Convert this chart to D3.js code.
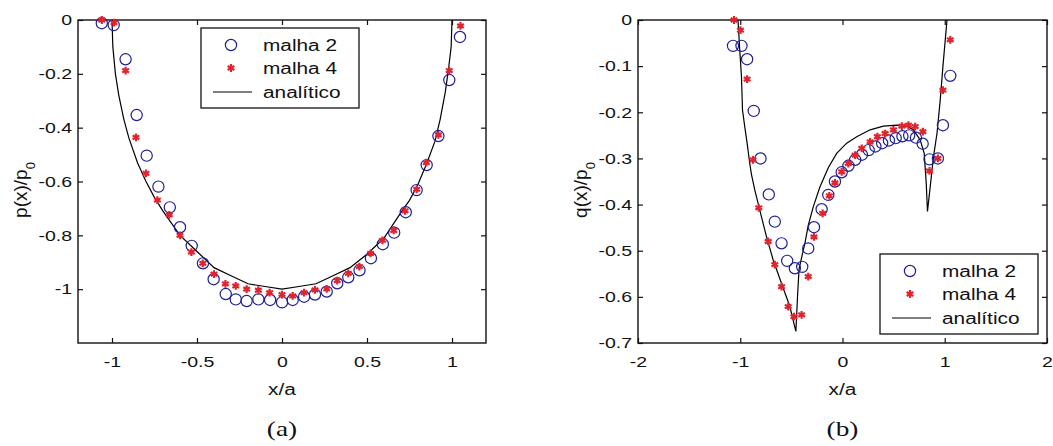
<!DOCTYPE html>
<html>
<head>
<meta charset="utf-8">
<script src="https://cdn.jsdelivr.net/npm/d3@7"></script>
<style>
  body { margin: 0; background: #fff; }
  svg { display: block; }
</style>
</head>
<body>
<div id="chart"></div>
<script>
// (a) normal pressure p(x)/p0
const pMalha2X = [-1.06, -0.99, -0.92, -0.855, -0.796, -0.727, -0.66, -0.6, -0.531, -0.465, -0.402, -0.331, -0.272, -0.208, -0.139, -0.07, 0, 0.063, 0.13, 0.194, 0.263, 0.325, 0.39, 0.456, 0.523, 0.593, 0.66, 0.728, 0.792, 0.851, 0.92, 0.984, 1.047];
const pMalha2Y = [-0.012, -0.019, -0.146, -0.353, -0.504, -0.619, -0.696, -0.77, -0.839, -0.904, -0.963, -1.018, -1.038, -1.044, -1.038, -1.04, -1.049, -1.04, -1.028, -1.02, -1.009, -0.978, -0.956, -0.93, -0.885, -0.833, -0.79, -0.714, -0.632, -0.539, -0.431, -0.223, -0.063];
const pMalha4X = [-1.06, -0.988, -0.92, -0.859, -0.8, -0.733, -0.663, -0.6, -0.533, -0.466, -0.4, -0.333, -0.272, -0.208, -0.139, -0.073, 0, 0.063, 0.13, 0.194, 0.263, 0.325, 0.39, 0.455, 0.521, 0.591, 0.657, 0.724, 0.792, 0.849, 0.92, 0.984, 1.05];
const pMalha4Y = [0, -0.01, -0.188, -0.436, -0.57, -0.669, -0.724, -0.8, -0.862, -0.904, -0.944, -0.98, -0.988, -1.0, -1.004, -1.013, -1.02, -1.025, -1.013, -1.003, -0.999, -0.968, -0.941, -0.916, -0.867, -0.819, -0.782, -0.709, -0.629, -0.53, -0.427, -0.188, -0.022];
const pAnalitX = [-1, -0.995, -0.98, -0.96, -0.93, -0.9, -0.85, -0.8, -0.75, -0.7, -0.6, -0.5, -0.4, -0.3, -0.2, -0.1, 0, 0.1, 0.2, 0.3, 0.4, 0.5, 0.6, 0.7, 0.75, 0.8, 0.85, 0.9, 0.93, 0.96, 0.98, 0.995, 1];
const pAnalitY = [0, -0.1, -0.2, -0.28, -0.37, -0.44, -0.53, -0.6, -0.66, -0.71, -0.8, -0.86, -0.92, -0.95, -0.98, -0.99, -1.0, -0.99, -0.98, -0.95, -0.92, -0.87, -0.81, -0.715, -0.67, -0.61, -0.535, -0.45, -0.37, -0.27, -0.18, -0.1, 0];

// (b) tangential traction q(x)/p0
const qMalha2X = [-1.071, -0.988, -0.933, -0.868, -0.802, -0.721, -0.662, -0.596, -0.541, -0.466, -0.394, -0.335, -0.279, -0.204, -0.139, -0.074, -0.008, 0.058, 0.124, 0.19, 0.256, 0.322, 0.388, 0.454, 0.52, 0.586, 0.652, 0.718, 0.784, 0.851, 0.933, 0.982, 1.054];
const qMalha2Y = [-0.056, -0.056, -0.085, -0.197, -0.3, -0.378, -0.437, -0.484, -0.522, -0.538, -0.535, -0.495, -0.449, -0.41, -0.379, -0.35, -0.33, -0.316, -0.303, -0.292, -0.282, -0.274, -0.267, -0.261, -0.256, -0.252, -0.25, -0.255, -0.268, -0.302, -0.3, -0.228, -0.121];
const qMalha4X = [-1.061, -0.998, -0.933, -0.875, -0.819, -0.727, -0.662, -0.596, -0.531, -0.475, -0.4, -0.335, -0.279, -0.194, -0.129, -0.074, -0.008, 0.057, 0.123, 0.188, 0.27, 0.341, 0.417, 0.498, 0.58, 0.645, 0.711, 0.786, 0.851, 0.933, 0.982, 1.054];
const qMalha4Y = [0, -0.022, -0.128, -0.303, -0.407, -0.48, -0.53, -0.578, -0.621, -0.643, -0.639, -0.556, -0.47, -0.419, -0.381, -0.353, -0.329, -0.311, -0.293, -0.278, -0.264, -0.253, -0.246, -0.238, -0.23, -0.228, -0.231, -0.242, -0.327, -0.3, -0.152, -0.043];
const qAnalitX = [-1.022, -1.005, -0.988, -0.978, -0.956, -0.933, -0.907, -0.89, -0.858, -0.809, -0.743, -0.678, -0.596, -0.515, -0.456, -0.44, -0.425, -0.395, -0.368, -0.335, -0.286, -0.221, -0.139, -0.057, 0.041, 0.139, 0.27, 0.4, 0.531, 0.629, 0.694, 0.76, 0.799, 0.819, 0.831, 0.858, 0.89, 0.924, 0.956, 0.982, 1.005, 1.022];
const qAnalitY = [0, -0.065, -0.123, -0.195, -0.231, -0.267, -0.311, -0.335, -0.368, -0.412, -0.47, -0.52, -0.571, -0.621, -0.675, -0.6, -0.54, -0.51, -0.484, -0.445, -0.405, -0.362, -0.32, -0.289, -0.267, -0.253, -0.238, -0.23, -0.228, -0.23, -0.238, -0.26, -0.289, -0.354, -0.415, -0.361, -0.296, -0.246, -0.173, -0.101, -0.043, 0];

// ticks
const pXTicks = [-1, -0.5, 0, 0.5, 1];
const pXTickLabels = ["-1", "-0.5", "0", "0.5", "1"];
const pYTicks = [0, -0.2, -0.4, -0.6, -0.8, -1];
const pYTickLabels = ["0", "-0.2", "-0.4", "-0.6", "-0.8", "-1"];
const qXTicks = [-2, -1, 0, 1, 2];
const qXTickLabels = ["-2", "-1", "0", "1", "2"];
const qYTicks = [0, -0.1, -0.2, -0.3, -0.4, -0.5, -0.6, -0.7];
const qYTickLabels = ["0", "-0.1", "-0.2", "-0.3", "-0.4", "-0.5", "-0.6", "-0.7"];

const legendLabels = ["malha 2", "malha 4", "analítico"];

const width = 1053, height = 446;
const blue = "#1f1f95", red = "#e2232e";
const stretch = 1.3;   // source figure is widened, so glyphs are too

const svg = d3.select("#chart").append("svg")
  .attr("width", width)
  .attr("height", height)
  .style("font-family", "'Liberation Sans', Arial, sans-serif");

const panels = [
  {
    left: 78, right: 486, top: 20, bottom: 343,
    xDomain: [-1.2, 1.2], yDomain: [-1.2, 0],
    xTicks: pXTicks, xLabels: pXTickLabels, yTicks: pYTicks, yLabels: pYTickLabels,
    m2: d3.zip(pMalha2X, pMalha2Y), m4: d3.zip(pMalha4X, pMalha4Y), ana: d3.zip(pAnalitX, pAnalitY),
    yLabel: "p(x)/p", yLabelX: 27, title: "(a)",
    legend: { x: 201, y: 28 }
  },
  {
    left: 638, right: 1047, top: 20, bottom: 343,
    xDomain: [-2, 2], yDomain: [-0.7, 0],
    xTicks: qXTicks, xLabels: qXTickLabels, yTicks: qYTicks, yLabels: qYTickLabels,
    m2: d3.zip(qMalha2X, qMalha2Y), m4: d3.zip(qMalha4X, qMalha4Y), ana: d3.zip(qAnalitX, qAnalitY),
    yLabel: "q(x)/p", yLabelX: 587, title: "(b)",
    legend: { x: 880, y: 254 }
  }
];

const star = d3.symbol().type(d3.symbolAsterisk).size(42);

panels.forEach(cfg => {
  const x = d3.scaleLinear().domain(cfg.xDomain).range([cfg.left, cfg.right]);
  const y = d3.scaleLinear().domain(cfg.yDomain).range([cfg.bottom, cfg.top]);
  const g = svg.append("g");
  const cx = (cfg.left + cfg.right) / 2;

  // axes, ticks point inwards on all four sides
  const axB = g.append("g").attr("transform", `translate(0,${cfg.bottom})`)
    .call(d3.axisBottom(x).tickValues(cfg.xTicks).tickFormat((d, i) => cfg.xLabels[i])
      .tickSizeInner(-5).tickSizeOuter(0).tickPadding(13));
  const axT = g.append("g").attr("transform", `translate(0,${cfg.top})`)
    .call(d3.axisTop(x).tickValues(cfg.xTicks).tickFormat("").tickSizeInner(-5).tickSizeOuter(0));
  const axL = g.append("g").attr("transform", `translate(${cfg.left},0)`)
    .call(d3.axisLeft(y).tickValues(cfg.yTicks).tickFormat((d, i) => cfg.yLabels[i])
      .tickSizeInner(-5).tickSizeOuter(0).tickPadding(6));
  const axR = g.append("g").attr("transform", `translate(${cfg.right},0)`)
    .call(d3.axisRight(y).tickValues(cfg.yTicks).tickFormat("").tickSizeInner(-5).tickSizeOuter(0));
  [axB, axT, axL, axR].forEach(a => {
    a.select(".domain").remove();
    a.selectAll("line").attr("stroke", "#111").attr("stroke-width", 1.2);
    a.selectAll("text").attr("class", "stretch")
      .attr("fill", "#111").style("font-size", "15px").style("font-family", "'Liberation Sans', Arial, sans-serif");
  });

  g.append("rect")
    .attr("x", cfg.left).attr("y", cfg.top)
    .attr("width", cfg.right - cfg.left).attr("height", cfg.bottom - cfg.top)
    .attr("fill", "none").attr("stroke", "#111").attr("stroke-width", 1.4);

  // analytic curve
  g.append("path").datum(cfg.ana)
    .attr("fill", "none").attr("stroke", "#000").attr("stroke-width", 1.2)
    .attr("d", d3.line().x(d => x(d[0])).y(d => y(d[1])));

  // malha 2 circles
  g.selectAll(".m2").data(cfg.m2).enter().append("circle")
    .attr("class", "m2")
    .attr("cx", d => x(d[0])).attr("cy", d => y(d[1])).attr("r", 5.6)
    .attr("fill", "none").attr("stroke", blue).attr("stroke-width", 1.2);

  // malha 4 stars
  g.selectAll(".m4").data(cfg.m4).enter().append("path")
    .attr("class", "m4")
    .attr("transform", d => `translate(${x(d[0])},${y(d[1])})`)
    .attr("d", star).attr("fill", "none").attr("stroke", red).attr("stroke-width", 2.2);

  // axis labels
  g.append("text").attr("class", "stretch")
    .attr("x", cx).attr("y", 395).attr("text-anchor", "middle")
    .style("font-size", "16px").attr("fill", "#111").text("x/a");
  const yl = g.append("text")
    .attr("transform", `translate(${cfg.yLabelX},190) rotate(-90)`)
    .attr("text-anchor", "middle").style("font-size", "19px").attr("fill", "#111");
  yl.append("tspan").text(cfg.yLabel);
  yl.append("tspan").attr("baseline-shift", "sub").style("font-size", "13px").text("0");

  g.append("text").attr("class", "stretch")
    .attr("x", cx).attr("y", 436).attr("text-anchor", "middle")
    .style("font-family", "'Liberation Serif', 'Times New Roman', serif")
    .style("font-size", "21px").attr("fill", "#111").text(cfg.title);

  // legend
  const lg = g.append("g").attr("transform", `translate(${cfg.legend.x},${cfg.legend.y})`);
  lg.append("rect").attr("width", 158).attr("height", 80)
    .attr("fill", "#fff").attr("stroke", "#111").attr("stroke-width", 1.3);
  const rows = [17, 40, 64];
  lg.append("circle").attr("cx", 30).attr("cy", rows[0]).attr("r", 5.6)
    .attr("fill", "none").attr("stroke", blue).attr("stroke-width", 1.2);
  lg.append("path").attr("transform", `translate(30,${rows[1]})`).attr("d", star)
    .attr("fill", "none").attr("stroke", red).attr("stroke-width", 2.2);
  lg.append("line").attr("x1", 12).attr("x2", 51).attr("y1", rows[2]).attr("y2", rows[2])
    .attr("stroke", "#000").attr("stroke-width", 1.2);
  legendLabels.forEach((t, i) => {
    lg.append("text").attr("class", "stretch")
      .attr("x", 62).attr("y", rows[i]).attr("dy", "0.35em")
      .style("font-size", "16px").attr("fill", "#111").text(t);
  });
});

// widen glyphs to match the source proportions
svg.selectAll("text.stretch").each(function () {
  const w = this.getComputedTextLength();
  if (w > 0) d3.select(this).attr("textLength", w * stretch).attr("lengthAdjust", "spacingAndGlyphs");
});
</script>
</body>
</html>
